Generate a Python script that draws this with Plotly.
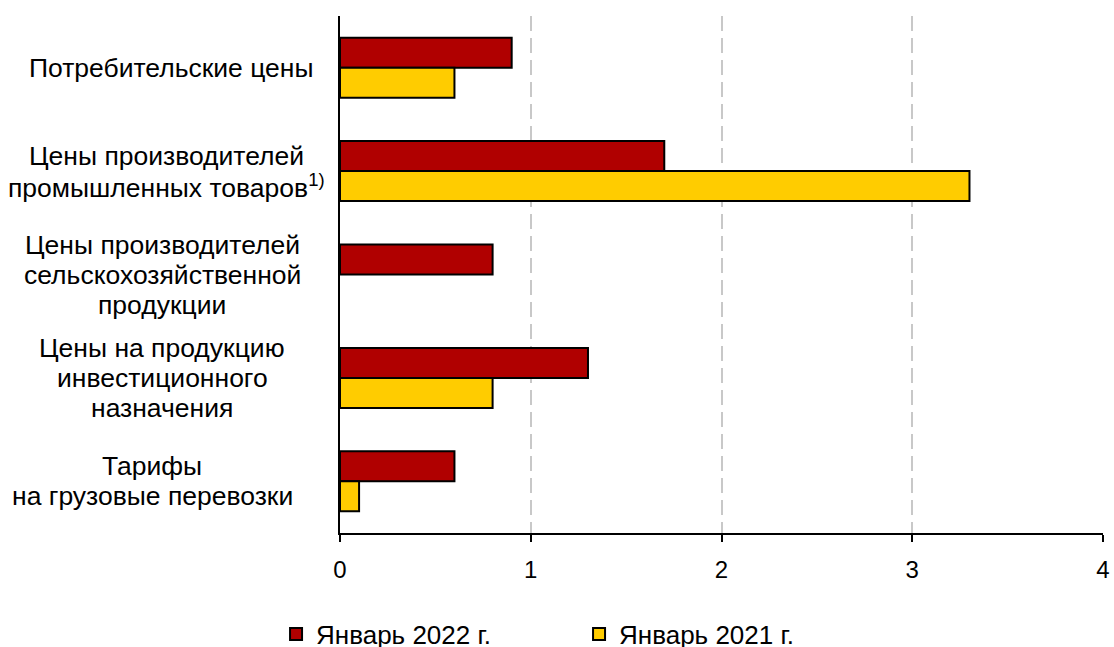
import plotly.graph_objects as go

categories = [
    ["Потребительские цены"],
    ["Цены производителей", "промышленных товаров<sup>1)</sup>"],
    ["Цены производителей", "сельскохозяйственной", "продукции"],
    ["Цены на продукцию", "инвестиционного", "назначения"],
    ["Тарифы", "на грузовые перевозки"],
]
series_2022_name = "Январь 2022 г."
series_2021_name = "Январь 2021 г."
values_2022 = [0.9, 1.7, 0.8, 1.3, 0.6]
values_2021 = [0.6, 3.3, None, 0.8, 0.1]
x_ticks = [0, 1, 2, 3, 4]

# layout only: horizontal centre of each category label block (x-domain fraction)
label_centres = [-0.2213, -0.228, -0.233, -0.233, -0.246]

FONT = "Liberation Sans, Arial, sans-serif"
cat_ids = list(range(len(categories)))

fig = go.Figure()
fig.add_trace(go.Bar(
    y=cat_ids, x=values_2022, orientation="h", name=series_2022_name,
    marker=dict(color="#B00000", line=dict(color="#000000", width=2)),
))
fig.add_trace(go.Bar(
    y=cat_ids, x=values_2021, orientation="h", name=series_2021_name,
    marker=dict(color="#FFCC00", line=dict(color="#000000", width=2)),
))

LINE_H = 30
for i, lines in enumerate(categories):
    n = len(lines)
    for j, line in enumerate(lines):
        fig.add_annotation(
            x=label_centres[i], xref="x domain", y=i, yref="y",
            yshift=((n - 1) / 2 - j) * LINE_H,
            text=line, showarrow=False, xanchor="center", yanchor="middle",
            font=dict(size=26.5, color="#000000", family=FONT),
        )

fig.update_layout(
    width=1114, height=647,
    margin=dict(l=340, r=10.5, t=16, b=114, autoexpand=False),
    paper_bgcolor="white", plot_bgcolor="white",
    barmode="group", bargap=0.42, bargroupgap=0,
    font=dict(family=FONT, size=25, color="#000000"),
    showlegend=True,
    legend=dict(
        orientation="h", xref="container", yref="container",
        x=0.2478, xanchor="left", y=0.0201, yanchor="middle",
        font=dict(size=26), entrywidth=258, itemwidth=30,
        traceorder="normal",
    ),
)
fig.update_xaxes(
    range=[0, 4], tickvals=x_ticks, ticktext=[str(t) for t in x_ticks],
    showgrid=True, gridcolor="#C8C8C8", griddash="15px,7px", gridwidth=2,
    showline=True, linecolor="#000000", linewidth=2,
    ticks="outside", ticklen=7, tickcolor="#000000", tickwidth=2,
    ticklabelstandoff=7, zeroline=False, automargin=False,
    ticklabeloverflow="allow",
    tickfont=dict(size=24),
)
fig.update_yaxes(
    tickvals=cat_ids, showticklabels=False, autorange="reversed",
    showgrid=False, zeroline=False, automargin=False,
    showline=True, linecolor="#000000", linewidth=2, ticks="",
)

fig.write_html(
    "out.html",
    config={"displayModeBar": False},
    post_script="document.body.style.margin='0';document.body.style.overflow='hidden';",
)
